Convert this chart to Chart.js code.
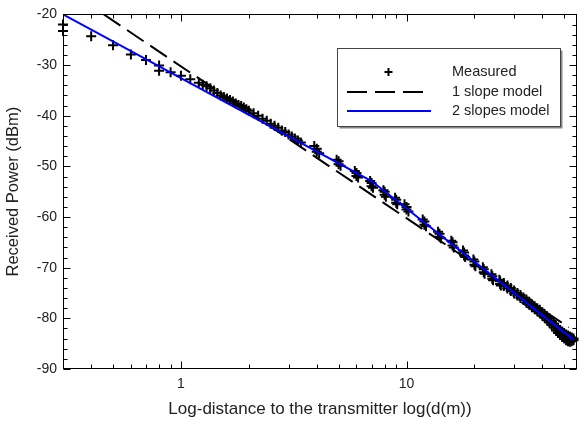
<!DOCTYPE html>
<html>
<head>
<meta charset="utf-8">
<script src="https://cdn.jsdelivr.net/npm/chart.js@4.4.0/dist/chart.umd.min.js"></script>
<style>
  html, body { margin: 0; padding: 0; background: #fff; }
</style>
</head>
<body>
<canvas id="chart" width="584" height="431"></canvas>
<script>
// Measured samples (distance in m, received power in dBm)
const measuredDist = [
  0.3, 0.3, 0.4, 0.5, 0.6, 0.7, 0.8, 0.8, 0.9, 1.0, 1.1, 1.2, 1.25, 1.3, 1.35, 1.4, 1.45,
  1.5, 1.55, 1.6, 1.65, 1.7, 1.75, 1.8, 1.85, 1.9, 1.95, 2.0, 2.1, 2.2, 2.3, 2.4, 2.5,
  2.6, 2.7, 2.8, 2.9, 3.0, 3.1, 3.2, 3.3, 3.4,
  3.9, 4.0, 4.0, 4.1,  4.9, 5.0, 5.0, 5.1,  5.9, 6.0, 6.0, 6.1,  6.9, 7.0, 7.0, 7.1,
  7.9, 8.0, 8.0, 8.1,  8.9, 9.0, 9.0, 9.1,  9.8, 10, 10, 10.2,  11.8, 12, 12, 12.2,
  13.8, 14, 14, 14.2,  15.8, 16, 16, 16.2,  17.8, 18, 18, 18.2,  19.8, 20, 20, 20.2,
  21.8, 22, 22, 22.2,  23.8, 24, 24, 24.2,  25.8, 26, 26, 26.2,
  27, 27, 28, 28, 29, 29, 30, 30, 31, 31, 32, 32, 33, 33, 34, 34, 35, 35, 36, 36,
  37, 37, 38, 38, 39, 39, 40, 40, 41, 41, 42, 42, 43, 43, 44, 44, 45, 45, 46, 46,
  47, 47, 48, 48, 49, 49, 50, 50, 51, 51, 52, 52, 53, 53, 54, 54, 55, 55
];
const measuredPower = [
  -22.0, -23.3, -24.3, -26.1, -27.9, -29.0, -30.1, -31.1, -31.4, -32.1, -32.8, -33.5, -33.9, -34.2, -34.6, -35.0, -35.5,
  -36.0, -36.3, -36.6, -36.9, -37.2, -37.6, -37.9, -38.1, -38.4, -38.7, -39.0, -39.5, -40.0, -40.6, -41.0, -41.6,
  -42.0, -42.4, -42.9, -43.2, -43.7, -44.1, -44.5, -44.9, -45.3,
  -46.0, -46.5, -47.1, -47.4,  -48.7, -49.0, -49.6, -49.9,  -50.9, -51.3, -51.9, -52.2,  -52.9, -53.3, -53.9, -54.2,
  -54.7, -55.0, -55.6, -56.0,  -56.2, -56.6, -57.2, -57.5,  -57.5, -58.0, -58.5, -58.9,  -60.5, -60.9, -61.5, -61.8,
  -62.9, -63.3, -63.9, -64.2,  -64.7, -65.0, -65.6, -66.0,  -66.6, -67.0, -67.6, -67.9,  -68.4, -68.8, -69.4, -69.7,
  -69.9, -70.3, -70.9, -71.2,  -71.3, -71.7, -72.2, -72.5,  -72.4, -72.7, -73.2, -73.5,
  -73.0, -73.6, -73.5, -74.1, -74.0, -74.6, -74.5, -75.1, -75.0, -75.5, -75.4, -76.0, -75.9, -76.4, -76.3, -76.9, -76.7, -77.3, -77.2, -77.8,
  -77.6, -78.2, -78.0, -78.6, -78.3, -79.0, -78.8, -79.5, -79.2, -79.9, -79.6, -80.4, -80.0, -80.8, -80.5, -81.3, -81.0, -81.8, -81.5, -82.4,
  -81.9, -82.9, -82.3, -83.3, -82.6, -83.7, -82.9, -84.0, -83.2, -84.3, -83.4, -84.5, -83.6, -84.6, -83.8, -84.5, -84.0, -84.3
];

// 1 slope model
const oneSlopeDist = [0.455, 52.4];
const oneSlopePower = [-20, -81.8];

// 2 slopes model (break point near 7 m)
const twoSlopeDist = [0.3, 7, 54.6];
const twoSlopePower = [-20, -52.9, -84.1];

const seriesLabels = ['Measured', '1 slope model', '2 slopes model'];

const xMajorTicks = [1, 10];
const xMinorTicks = [0.4, 0.5, 0.6, 0.7, 0.8, 0.9, 2, 3, 4, 5, 6, 7, 8, 9, 20, 30, 40, 50];
const yMajorTicks = [-90, -80, -70, -60, -50, -40, -30, -20];
const yMinorTicks = [-88, -86, -84, -82, -78, -76, -74, -72, -68, -66, -64, -62, -58, -56, -54, -52,
  -48, -46, -44, -42, -38, -36, -34, -32, -28, -26, -24, -22];

const xTitle = 'Log-distance to the transmitter log(d(m))';
const yTitle = 'Received Power (dBm)';

const FONT = 'Liberation Sans, Arial, sans-serif';
const TEXT = '#222';

const toPoints = (xs, ys) => xs.map((x, i) => ({ x: x, y: ys[i] }));

// frame with inward ticks on all four sides, plus the boxed legend
const frameAndLegend = {
  id: 'frameAndLegend',
  afterDatasetsDraw(chart) {
    const { ctx, chartArea: a, scales: { x, y } } = chart;
    const L = Math.round(a.left) + 0.5, R = Math.round(a.right) - 0.5;
    const T = Math.round(a.top) + 0.5, B = Math.round(a.bottom) - 0.5;
    ctx.save();
    ctx.strokeStyle = '#000';
    ctx.lineWidth = 1;
    ctx.strokeRect(L, T, R - L, B - T);

    const seg = (x1, y1, x2, y2) => { ctx.beginPath(); ctx.moveTo(x1, y1); ctx.lineTo(x2, y2); ctx.stroke(); };
    const xTicks = (vals, len) => vals.forEach(v => {
      const p = Math.round(x.getPixelForValue(v)) + 0.5;
      seg(p, B, p, B - len);
      seg(p, T, p, T + len);
    });
    const yTicks = (vals, len) => vals.forEach(v => {
      const p = Math.round(y.getPixelForValue(v)) + 0.5;
      seg(L, p, L + len, p);
      seg(R, p, R - len, p);
    });
    xTicks(xMajorTicks, 7);
    xTicks(xMinorTicks, 4);
    yTicks(yMajorTicks, 7);
    yTicks(yMinorTicks, 4);
    ctx.restore();
  },
  afterDraw(chart) {
    const { ctx } = chart;
    const ds = chart.data.datasets;
    const bx = 337.5, by = 48.5, bw = 223, bh = 78;
    ctx.save();
    ctx.fillStyle = '#888';
    ctx.fillRect(bx + 2, by + 2, bw, bh);
    ctx.fillStyle = '#fff';
    ctx.fillRect(bx, by, bw, bh);
    ctx.strokeStyle = '#444';
    ctx.lineWidth = 1;
    ctx.strokeRect(bx, by, bw, bh);

    const rows = [72, 92, 111];
    // Measured: small plus
    ctx.strokeStyle = '#000';
    ctx.lineWidth = 2;
    ctx.beginPath();
    ctx.moveTo(384.5, rows[0]); ctx.lineTo(392.5, rows[0]);
    ctx.moveTo(388.5, rows[0] - 4); ctx.lineTo(388.5, rows[0] + 4);
    ctx.stroke();
    // 1 slope: dashed
    ctx.setLineDash(ds[1].borderDash);
    ctx.beginPath();
    ctx.moveTo(347, rows[1]); ctx.lineTo(424, rows[1]);
    ctx.stroke();
    ctx.setLineDash([]);
    // 2 slopes: blue solid
    ctx.strokeStyle = ds[2].borderColor;
    ctx.beginPath();
    ctx.moveTo(347, rows[2]); ctx.lineTo(431, rows[2]);
    ctx.stroke();

    ctx.fillStyle = TEXT;
    ctx.font = '14.5px ' + FONT;
    ctx.textBaseline = 'middle';
    ctx.textAlign = 'left';
    ds.forEach((d, i) => ctx.fillText(d.label, 452, rows[i]));
    ctx.restore();
  }
};

new Chart(document.getElementById('chart'), {
  type: 'scatter',
  data: {
    datasets: [
      {
        label: seriesLabels[0],
        data: toPoints(measuredDist, measuredPower),
        pointStyle: 'cross',
        pointRadius: 5,
        borderWidth: 2,
        borderColor: '#000',
        backgroundColor: '#000',
        showLine: false,
        clip: false,
        order: 3
      },
      {
        label: seriesLabels[1],
        data: toPoints(oneSlopeDist, oneSlopePower),
        showLine: true,
        borderColor: '#000',
        borderWidth: 2,
        borderDash: [20, 8],
        pointRadius: 0,
        order: 2
      },
      {
        label: seriesLabels[2],
        data: toPoints(twoSlopeDist, twoSlopePower),
        showLine: true,
        borderColor: '#0000ff',
        borderWidth: 2,
        pointRadius: 0,
        order: 1
      }
    ]
  },
  options: {
    responsive: false,
    animation: false,
    layout: { padding: { top: 12, right: 1, left: 0, bottom: 0 } },
    plugins: { legend: { display: false }, tooltip: { enabled: false } },
    scales: {
      x: {
        type: 'logarithmic',
        min: 0.3,
        max: 57,
        afterBuildTicks: axis => { axis.ticks = xMajorTicks.map(v => ({ value: v })); },
        afterFit: axis => { axis.height = 62; },
        ticks: {
          autoSkip: false, maxRotation: 0, padding: 7, color: TEXT,
          font: { family: FONT, size: 14 },
          callback: v => String(v)
        },
        grid: { display: false, drawTicks: false },
        border: { display: false },
        title: {
          display: true, text: xTitle, color: TEXT,
          font: { family: FONT, size: 17 },
          padding: { top: 0, bottom: 11 }
        }
      },
      y: {
        min: -90,
        max: -20,
        afterBuildTicks: axis => { axis.ticks = yMajorTicks.map(v => ({ value: v })); },
        afterFit: axis => { axis.width = 63; },
        ticks: {
          padding: 6, color: TEXT,
          font: { family: FONT, size: 14 }
        },
        grid: { display: false, drawTicks: false },
        border: { display: false },
        title: {
          display: true, text: yTitle, color: TEXT,
          font: { family: FONT, size: 16.5 },
          padding: { top: 4, bottom: 0 }
        }
      }
    }
  },
  plugins: [frameAndLegend]
});
</script>
</body>
</html>
